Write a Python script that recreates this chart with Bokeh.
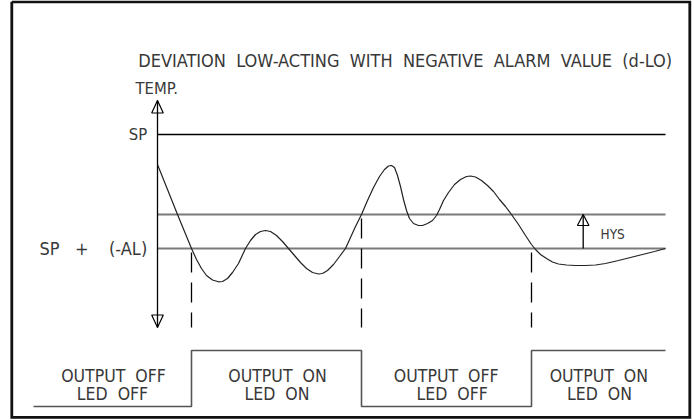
from bokeh.plotting import figure
from bokeh.models import Range1d
from bokeh.core.properties import value
from bokeh.embed import file_html
from bokeh.resources import INLINE

# ---- diagram data (units: time along x, temperature drawn downward along y) ----
SP_LEVEL = 134          # set point
HYS_LEVEL = 214         # SP + (-AL) + HYS
AL_LEVEL = 248          # SP + (-AL)
T_START = 157           # temperature axis position / start of time
T_END = 665             # end of time span
AXIS_TOP = 100
AXIS_BOTTOM = 327

CURVE_X = [157, 177, 191, 196, 201, 206, 212, 218, 222, 227, 232, 238, 245, 250, 255, 260,
           265, 270, 276, 282, 288, 294, 300, 306, 312, 318, 322, 327, 333, 339, 345, 350,
           355, 361, 367, 373, 379, 384, 388, 391, 394, 397, 400, 403, 406, 409, 413, 418,
           422, 427, 432, 436, 439, 443, 448, 454, 460, 466, 470, 475, 481, 487, 493, 499,
           505, 511, 518, 525, 531, 535, 540, 546, 552, 558, 566, 575, 585, 595, 605, 618,
           630, 642, 654, 665]
CURVE_Y = [164, 214, 248, 259, 268, 275, 279.5, 281.3, 281, 278, 272, 263, 248, 240, 234, 231,
           230, 231, 235, 241, 248, 255, 262, 268, 272, 273.5, 273, 270, 264, 256, 248, 237,
           226, 214, 200, 187, 176, 169, 165.5, 165, 167, 175, 186, 199, 210, 218, 223, 225,
           225, 223, 220, 215, 209, 200, 192, 184, 179, 176, 175.5, 176.5, 180, 185, 191, 199,
           206, 214, 224, 235, 244, 249, 254, 258, 261.5, 263.5, 264.5, 265, 265, 264.5, 263, 260,
           257, 254, 251, 248]

SWITCH_X = [191, 361, 531]             # output switching instants
SWITCH_FROM = [AL_LEVEL, HYS_LEVEL, AL_LEVEL]
OUT_START = 33
OUT_LOW = 406                          # output OFF level
OUT_HIGH = 350                         # output ON level
OUT_STATES = [OUT_LOW, OUT_HIGH, OUT_LOW, OUT_HIGH]

HYS_X = 582.7
ARROW_HALF_W = 5.8
ARROW_LEN = 12.5

FRAME_L, FRAME_R, FRAME_T, FRAME_B = 11.3, 689.3, 1.3, 416.8

NB2 = "\u00a0\u00a0"
TITLE = NB2.join(["DEVIATION", "LOW-ACTING", "WITH", "NEGATIVE", "ALARM", "VALUE", "(d-LO)"])
OUT_L1 = ["OUTPUT" + NB2 + "OFF", "OUTPUT" + NB2 + "ON", "OUTPUT" + NB2 + "OFF", "OUTPUT" + NB2 + "ON"]
OUT_L2 = ["LED" + NB2 + "OFF", "LED" + NB2 + "ON", "LED" + NB2 + "OFF", "LED" + NB2 + "ON"]
OUT_L1_X = [113, 277, 445.7, 598.3]
OUT_L2_X = [112, 276.5, 451.7, 599]
AL_LABEL = "SP\u00a0\u00a0\u00a0+\u00a0\u00a0\u00a0\u00a0(-AL)"

FONT = value("DejaVu Sans Condensed")
INK = "#383838"

p = figure(width=694, height=420, x_range=Range1d(0, 694), y_range=Range1d(420, 0),
           output_backend="svg", toolbar_location=None, min_border=0,
           x_axis_location=None, y_axis_location=None)
p.grid.visible = False
p.outline_line_color = None
p.background_fill_color = "white"
p.border_fill_color = "white"

# frame
p.multi_line(xs=[[FRAME_L, FRAME_R, FRAME_R, FRAME_L, FRAME_L]],
             ys=[[FRAME_T, FRAME_T, FRAME_B, FRAME_B, FRAME_T]],
             line_color="#111111", line_width=2.8, line_join="miter")

# reference levels
p.segment(x0=[T_START], x1=[T_END], y0=[SP_LEVEL], y1=[SP_LEVEL], line_color="black", line_width=1.3)
p.segment(x0=[T_START, T_START], x1=[T_END, T_END], y0=[HYS_LEVEL, AL_LEVEL], y1=[HYS_LEVEL, AL_LEVEL],
          line_color="#7a7a7a", line_width=2)

# temperature axis with hollow arrow heads
p.segment(x0=[T_START], x1=[T_START], y0=[AXIS_TOP], y1=[AXIS_BOTTOM], line_color="black", line_width=1.3)
p.patches(xs=[[T_START, T_START - ARROW_HALF_W, T_START + ARROW_HALF_W],
              [T_START, T_START - ARROW_HALF_W, T_START + ARROW_HALF_W]],
          ys=[[AXIS_TOP, AXIS_TOP + ARROW_LEN, AXIS_TOP + ARROW_LEN],
              [AXIS_BOTTOM, AXIS_BOTTOM - ARROW_LEN, AXIS_BOTTOM - ARROW_LEN]],
          fill_alpha=0, line_color="black", line_width=1.2)

# HYS arrow
p.segment(x0=[HYS_X], x1=[HYS_X], y0=[AL_LEVEL], y1=[HYS_LEVEL], line_color="black", line_width=1.3)
p.patch(x=[HYS_X, HYS_X - ARROW_HALF_W, HYS_X + ARROW_HALF_W],
        y=[HYS_LEVEL, HYS_LEVEL + ARROW_LEN - 1.5, HYS_LEVEL + ARROW_LEN - 1.5],
        fill_alpha=0, line_color="black", line_width=1.2)

# temperature curve
p.line(CURVE_X, CURVE_Y, line_color="#222222", line_width=1.2)

# switching instants (dashed)
p.segment(x0=SWITCH_X, x1=SWITCH_X, y0=SWITCH_FROM, y1=[AXIS_BOTTOM] * 3,
          line_color="black", line_width=1.3, line_dash="20 10", line_dash_offset=-4)

# output step
step_x = [OUT_START]
step_y = [OUT_STATES[0]]
for i, sx in enumerate(SWITCH_X):
    step_x += [sx, sx]
    step_y += [OUT_STATES[i], OUT_STATES[i + 1]]
step_x.append(T_END)
step_y.append(OUT_STATES[-1])
p.line(step_x, step_y, line_color="#555555", line_width=1.6)

# texts (y = vertical centre of the capitals)
p.text(x=[137.7], y=[59.7], text=[TITLE], text_font=FONT, text_font_size="18px",
       text_baseline="middle", text_color=INK)
p.text(x=[135], y=[88], text=["TEMP."], text_font=FONT, text_font_size="16.5px",
       text_baseline="middle", text_color=INK)
p.text(x=[146.7], y=[134], text=["SP"], text_font=FONT, text_font_size="16.5px",
       text_align="right", text_baseline="middle", text_color=INK)
p.text(x=[146.7], y=[247.5], text=[AL_LABEL], text_font=FONT, text_font_size="18px",
       text_align="right", text_baseline="middle", text_color=INK)
p.text(x=[600], y=[233.3], text=["HYS"], text_font=FONT, text_font_size="13.5px",
       text_baseline="middle", text_color=INK)
p.text(x=OUT_L1_X, y=[375] * 4, text=OUT_L1, text_font=FONT, text_font_size="17.5px",
       text_align="center", text_baseline="middle", text_color=INK)
p.text(x=OUT_L2_X, y=[393.5] * 4, text=OUT_L2, text_font=FONT, text_font_size="17.5px",
       text_align="center", text_baseline="middle", text_color=INK)

open("out.html", "w").write(file_html(p, INLINE))
